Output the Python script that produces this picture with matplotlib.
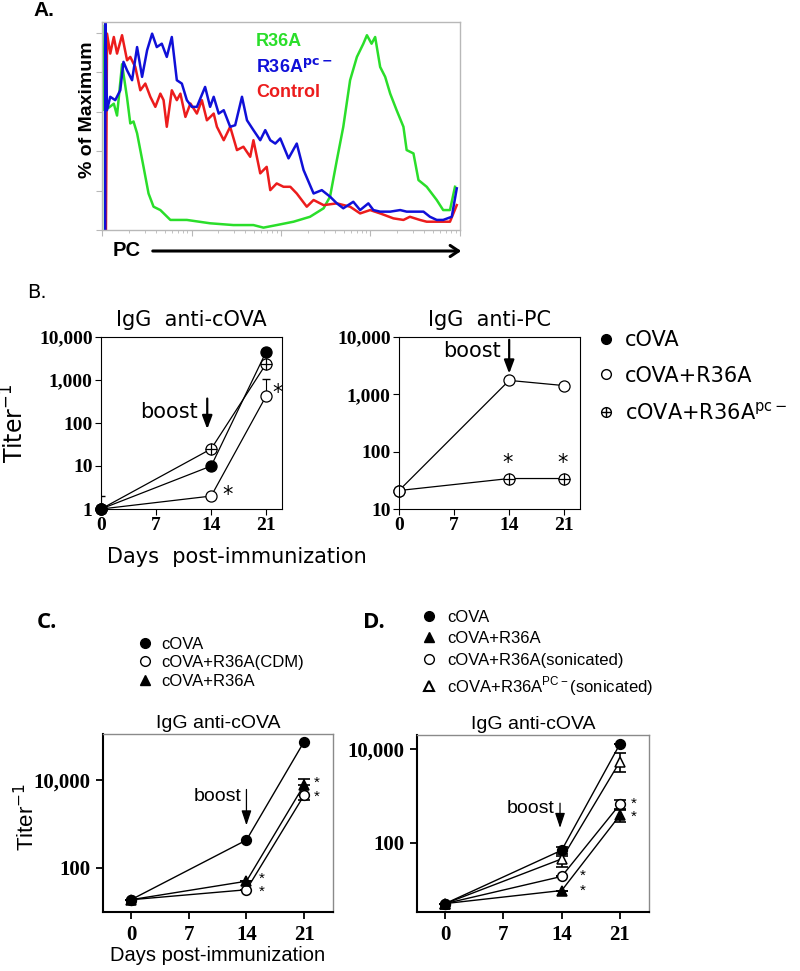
import matplotlib
matplotlib.use("Agg")
import matplotlib.pyplot as plt
import numpy as np
from matplotlib.lines import Line2D

# ---- panel A: flow histogram (channel 0-1000, % of max) ----
green_x = [0, 0, 5, 19, 33, 42, 56, 70, 79, 88, 98, 116, 130, 144, 163, 191, 237, 302, 367, 423,
           451, 488, 535, 581, 619, 637, 656, 674, 693, 712, 730, 740, 753, 763, 777, 791, 805,
           823, 842, 851, 870, 884, 907, 935, 953, 972, 986]
green_y = [0, 104, 61, 62, 64, 58, 84, 67, 54, 55, 49, 32, 18.5, 11.8, 10.1, 5.1, 5.1, 3.4, 2.5, 2.5,
           1.2, 2.5, 4.2, 6.7, 11, 16.9, 35.4, 52.3, 75.9, 87.7, 94.4, 98.7, 94.4, 97.8, 82.6, 77.6,
           69.1, 60.7, 52.3, 40.5, 38.8, 25.3, 21.9, 15.2, 10.1, 10.1, 21.9]
red_x = [11, 14, 23, 33, 42, 56, 70, 79, 93, 107, 121, 135, 149, 163, 172, 181, 195, 209, 219, 233,
         247, 265, 279, 293, 312, 321, 340, 358, 377, 395, 414, 423, 442, 460, 470, 488, 507, 526,
         544, 572, 591, 619, 656, 693, 721, 749, 777, 814, 842, 860, 888, 907, 935, 972, 991]
red_y = [0, 99.5, 89.4, 97.8, 89.4, 98.7, 86, 87.7, 82.6, 70.8, 74.2, 67.5, 62.4, 69.1, 65.8, 52.3,
         70.8, 65.8, 69.1, 57.3, 64.1, 59, 65.8, 55.6, 59, 52.3, 45.5, 52.3, 40.5, 42.2, 37.1, 45.5,
         28.7, 32, 20.2, 23.6, 21.9, 21.9, 18.5, 11.8, 15.2, 12.6, 13.5, 11.8, 8.4, 10.1, 8.4, 5.9,
         5.1, 6.7, 5.1, 4.2, 4.2, 4.2, 12.6]
blue_x = [9, 9, 14, 23, 37, 51, 60, 70, 84, 98, 112, 126, 140, 153, 167, 181, 195, 209, 223, 237,
          251, 265, 288, 302, 312, 326, 340, 358, 372, 391, 405, 423, 442, 456, 470, 484, 498, 521,
          544, 563, 591, 614, 637, 656, 674, 702, 721, 744, 758, 777, 805, 833, 851, 870, 898, 916,
          935, 953, 977, 991]
blue_y = [0, 105, 60.7, 67.5, 65.8, 70.8, 85.2, 80.9, 75.9, 92.7, 77.6, 91.1, 99.5, 92.7, 94.4, 87.7,
          97.8, 75.9, 74.2, 65.8, 62.4, 62.4, 72.5, 62.4, 67.5, 59, 60.7, 52.3, 53.1, 67.5, 55.6,
          50.6, 45.5, 50.6, 45.5, 43.8, 46.4, 36.3, 43.8, 30.4, 18.5, 20.2, 16.9, 13.5, 11, 14.3,
          10.1, 13.5, 10.1, 9.3, 9.3, 10.1, 9.3, 9.3, 9.3, 6.7, 5.1, 5.1, 6.7, 21.1]

# ---- panel B ----
days = [0, 14, 21]
b_cova = [1, 10, 4600]
b_r36a = [1, 2, 430]
b_r36a_hi = [1, 0, 620]
b_pc = [1, 25, 2400]
pc_r36a = [21, 1750, 1420]
pc_pc = [21, 34, 34]

# ---- panel C ----
c_cova = [19, 430, 74000]
c_cdm = [19, 32, 4500]
c_cdm_lo = [0, 0, 1000]
c_r36a = [19, 50, 7700]
c_r36a_hi = [0, 0, 2800]

# ---- panel D ----
d_cova = [5, 69, 12800]
d_cova_err = [[0, 16, 0], [0, 12, 0]]
d_r36a = [5, 9.5, 385]
d_r36a_err = [[0, 0, 108], [0, 0, 108]]
d_son = [5, 19, 660]
d_son_err = [[0, 0, 125], [0, 0, 175]]
d_pcson = [5, 45, 5400]
d_pcson_err = [[0, 15, 2140], [0, 13, 2700]]

W, H = 800, 971
fig = plt.figure(figsize=(8, 9.71), dpi=100)


def rect(l, t, r, b):
    return [l / W, 1 - b / H, (r - l) / W, (b - t) / H]


def ftext(x, y, s, **kw):
    fig.text(x / W, 1 - y / H, s, **kw)


# ================= A =================
axA = fig.add_axes(rect(102, 22, 460, 230))
axA.plot(green_x, green_y, color="#2ade2a", lw=1.8)
axA.plot(red_x, red_y, color="#ec1c1c", lw=1.8)
axA.plot(blue_x, blue_y, color="#1010d8", lw=1.8)
axA.set_xlim(0, 1000)
axA.set_ylim(0, 105.4)
for s in axA.spines.values():
    s.set_color("#b8b8b8")
    s.set_linewidth(1)
axA.set_yticks([0, 20, 40, 60, 80, 100])
axA.set_yticklabels([])
minor = [d * 250 + 250 * np.log10(k) for d in range(4) for k in range(2, 10)]
axA.set_xticks([0, 250, 500, 750, 1000])
axA.set_xticks(minor, minor=True)
axA.set_xticklabels([])
axA.tick_params(colors="#b8b8b8", length=4, width=0.8)
axA.tick_params(which="minor", colors="#b8b8b8", length=2, width=0.6)
ftext(33, 11, "A.", fontsize=15, fontweight="bold", family="Liberation Sans", va="center")
ftext(87, 110, "% of Maximum", fontsize=14, fontweight="bold", family="Liberation Sans",
      rotation=90, ha="center", va="center")
ftext(113, 251, "PC", fontsize=14.5, fontweight="bold", family="Liberation Sans", va="center")
fig.add_artist(matplotlib.patches.FancyArrowPatch((150 / W, 1 - 251 / H), (464 / W, 1 - 251 / H),
               transform=fig.transFigure, arrowstyle="->,head_length=6,head_width=4",
               lw=2.2, color="black", mutation_scale=1))
axA.text(0.43, 0.904, "R36A", transform=axA.transAxes, color="#2ade2a", fontsize=13,
         fontweight="bold", family="Liberation Sans", va="center")
axA.text(0.43, 0.784, r"R36A$^{\mathbf{pc-}}$", transform=axA.transAxes, color="#1010d8",
         fontsize=13, fontweight="bold", family="Liberation Sans", va="center")
axA.text(0.43, 0.659, "Control", transform=axA.transAxes, color="#ec1c1c", fontsize=13,
         fontweight="bold", family="Liberation Sans", va="center")

# ================= B =================
serif_b = dict(family="Liberation Serif", fontweight="bold", fontsize=14)
ftext(27, 292, "B.", fontsize=14, family="DejaVu Sans", va="center")


def style_b(ax):
    ax.set_xlim(0, 23)
    ax.set_xticks([0, 7, 14, 21])
    for s in ax.spines.values():
        s.set_linewidth(0.8)
    ax.tick_params(length=4, width=0.8, pad=2)
    ax.minorticks_off()
    for lab in ax.get_xticklabels() + ax.get_yticklabels():
        lab.set(**serif_b)


mk = dict(ms=8, mec="black", mew=0.9)
axB1 = fig.add_axes(rect(101, 337, 282, 509))
axB1.set_yscale("log")
axB1.errorbar(days[:1], b_r36a[:1], yerr=[[0], [b_r36a_hi[0]]], fmt="none", ecolor="black",
              capsize=3, lw=0.8, zorder=1)
axB1.errorbar(days[2:], b_r36a[2:], yerr=[[0], [b_r36a_hi[2]]], fmt="none", ecolor="black",
              capsize=3, lw=0.8, zorder=1)
axB1.plot(days, b_pc, color="black", lw=0.9, marker="o", mfc="white", clip_on=False, **mk)
axB1.plot(days, b_pc, ls="none", marker="+", color="black", ms=8, mew=0.9, clip_on=False)
axB1.plot(days, b_r36a, color="black", lw=0.9, marker="o", mfc="white", clip_on=False, **mk)
axB1.plot(days, b_cova, color="black", lw=0.9, marker="o", mfc="black", clip_on=False, **mk)
axB1.set_ylim(1, 10000)
axB1.set_yticks([1, 10, 100, 1000, 10000])
axB1.set_yticklabels(["1", "10", "100", "1,000", "10,000"])
style_b(axB1)
axB1.set_title("IgG  anti-cOVA", fontsize=15, family="DejaVu Sans", pad=8)
axB1.text(16.1, 2.15, "*", fontsize=15, ha="center", va="center")
axB1.text(22.4, 500, "*", fontsize=15, ha="center", va="center")
axB1.annotate("", xy=(13.5, 62), xytext=(13.5, 430),
              arrowprops=dict(arrowstyle="-|>,head_length=0.8,head_width=0.3", lw=1.6, color="black"))
axB1.text(12.3, 180, "boost", fontsize=15, family="DejaVu Sans", ha="right", va="center")

axB2 = fig.add_axes(rect(399, 337, 580, 509))
axB2.set_yscale("log")
axB2.plot(days, pc_pc, color="black", lw=0.9, marker="o", mfc="white", clip_on=False, **mk)
axB2.plot(days[1:], pc_pc[1:], ls="none", marker="+", color="black", ms=8, mew=0.9)
axB2.plot(days, pc_r36a, color="black", lw=0.9, marker="o", mfc="white", clip_on=False, **mk)
axB2.set_ylim(10, 10000)
axB2.set_yticks([10, 100, 1000, 10000])
axB2.set_yticklabels(["10", "100", "1,000", "10,000"])
style_b(axB2)
axB2.set_title("IgG  anti-PC", fontsize=15, family="DejaVu Sans", pad=8)
for d, v in zip(days[1:], pc_pc[1:]):
    axB2.text(d - 0.2, v * 1.85, "*", fontsize=15, ha="center", va="center")
axB2.annotate("", xy=(14, 2050), xytext=(14, 10000),
              arrowprops=dict(arrowstyle="-|>,head_length=0.8,head_width=0.3", lw=1.6, color="black"))
axB2.text(12.9, 5800, "boost", fontsize=15, family="DejaVu Sans", ha="right", va="center")

ftext(15, 423, r"Titer$^{-1}$", fontsize=17, family="DejaVu Sans", rotation=90,
      ha="center", va="center")
ftext(237, 557, "Days  post-immunization", fontsize=15, family="DejaVu Sans",
      ha="center", va="center")

hb = [Line2D([], [], ls="none", marker="o", mfc="black", mec="black", ms=7),
      Line2D([], [], ls="none", marker="o", mfc="white", mec="black", ms=7),
      (Line2D([], [], ls="none", marker="o", mfc="white", mec="black", ms=7),
       Line2D([], [], ls="none", marker="+", color="black", ms=7))]
fig.legend(hb, ["cOVA", "cOVA+R36A", r"cOVA+R36A$^{\mathregular{pc-}}$"],
           loc="upper left", bbox_to_anchor=(596 / W, 1 - 330 / H), frameon=False,
           prop=dict(family="DejaVu Sans", size=15), handlelength=1.0, handletextpad=0.4,
           labelspacing=0.75, borderpad=0, borderaxespad=0)


# ================= C & D =================
def style_cd(ax, ylo, yhi):
    ax.set_yscale("log")
    ax.set_ylim(ylo, yhi)
    ax.set_xlim(-3.4, 24.5)
    ax.set_xticks([0, 7, 14, 21])
    ax.set_yticks([100, 10000])
    ax.set_yticklabels(["100", "10,000"])
    ax.minorticks_off()
    ax.spines["left"].set_linewidth(1.5)
    ax.spines["bottom"].set_linewidth(1.5)
    for s in ("top", "right"):
        ax.spines[s].set_color("#8a8a8a")
        ax.spines[s].set_linewidth(1)
    ax.tick_params(length=5, width=1.3, pad=4)
    for lab in ax.get_xticklabels() + ax.get_yticklabels():
        lab.set(family="Liberation Serif", fontweight="bold", fontsize=15)
    ax.set_title("IgG anti-cOVA", fontsize=14, family="Liberation Sans", pad=4)


sans = dict(family="Liberation Sans")
ln = dict(color="black", lw=1.0, ms=7, mec="black", mew=1.1, clip_on=False)
star = dict(fontsize=11, ha="center", va="center", **sans)

axC = fig.add_axes(rect(103, 734, 333, 912))
axC.errorbar(days, c_r36a, yerr=[[0, 0, 0], c_r36a_hi], fmt="none", ecolor="black",
             capsize=4, lw=1.2, capthick=1.2)
axC.errorbar(days, c_cdm, yerr=[c_cdm_lo, [0, 0, 0]], fmt="none", ecolor="black",
             capsize=4, lw=1.2, capthick=1.2)
axC.plot(days, c_cdm, marker="o", mfc="white", **ln)
axC.plot(days, c_r36a, marker="^", mfc="black", **ln)
axC.plot(days, c_cova, marker="o", mfc="black", **ln)
style_cd(axC, 10, 110000)
axC.text(15.9, 57, "*", **star)
axC.text(15.9, 29, "*", **star)
axC.text(22.5, 8700, "*", **star)
axC.text(22.5, 4100, "*", **star)
axC.annotate("", xy=(14, 800), xytext=(14, 7000),
             arrowprops=dict(arrowstyle="-|>,head_length=0.9,head_width=0.3", lw=0.9, color="black"))
axC.text(13.4, 4100, "boost", fontsize=14, ha="right", va="center", **sans)
ftext(37, 622, "C.", fontsize=16, fontweight="bold", family="Open Sans", va="center")
ftext(27, 817, r"Titer$^{-1}$", fontsize=16, rotation=90, ha="center", va="center", **sans)
ftext(218, 955, "Days post-immunization", fontsize=14.5, ha="center", va="center", **sans)

hc = [Line2D([], [], ls="none", marker="o", mfc="black", mec="black", ms=7),
      Line2D([], [], ls="none", marker="o", mfc="white", mec="black", ms=7),
      Line2D([], [], ls="none", marker="^", mfc="black", mec="black", ms=7)]
fig.legend(hc, ["cOVA", "cOVA+R36A(CDM)", "cOVA+R36A"], loc="upper left",
           bbox_to_anchor=(138 / W, 1 - 637 / H), frameon=False,
           prop=dict(family="Liberation Sans", size=12), handlelength=0.8, handletextpad=0.6,
           labelspacing=0.2, borderpad=0, borderaxespad=0)

axD = fig.add_axes(rect(417, 735, 649, 912))
eb = dict(fmt="none", ecolor="black", capsize=4, lw=1.2, capthick=1.2)
axD.errorbar(days, d_cova, yerr=d_cova_err, **eb)
axD.errorbar(days, d_r36a, yerr=d_r36a_err, **eb)
axD.errorbar(days, d_son, yerr=d_son_err, **eb)
axD.errorbar(days, d_pcson, yerr=d_pcson_err, **eb)
axD.plot(days, d_pcson, marker="^", mfc="white", **ln)
axD.plot(days, d_son, marker="o", mfc="white", **ln)
axD.plot(days, d_r36a, marker="^", mfc="black", **ln)
axD.plot(days, d_cova, marker="o", mfc="black", **ln)
style_cd(axD, 3.3, 20000)
axD.text(16.5, 20, "*", **star)
axD.text(16.5, 9.2, "*", **star)
axD.text(22.7, 685, "*", **star)
axD.text(22.7, 355, "*", **star)
axD.annotate("", xy=(13.8, 180), xytext=(13.8, 800),
             arrowprops=dict(arrowstyle="-|>,head_length=0.9,head_width=0.3", lw=0.9, color="black"))
axD.text(13.1, 540, "boost", fontsize=14, ha="right", va="center", **sans)
ftext(363, 622, "D.", fontsize=16, fontweight="bold", family="Open Sans", va="center")

hd = [Line2D([], [], ls="none", marker="o", mfc="black", mec="black", ms=7),
      Line2D([], [], ls="none", marker="^", mfc="black", mec="black", ms=7),
      Line2D([], [], ls="none", marker="o", mfc="white", mec="black", ms=7),
      Line2D([], [], ls="none", marker="^", mfc="white", mec="black", mew=1.5, ms=7)]
fig.legend(hd, ["cOVA", "cOVA+R36A", "cOVA+R36A(sonicated)",
                r"cOVA+R36A$^{\mathregular{PC-}}$(sonicated)"], loc="upper left",
           bbox_to_anchor=(422 / W, 1 - 610 / H), frameon=False,
           prop=dict(family="Liberation Sans", size=12), handlelength=0.8, handletextpad=0.7,
           labelspacing=0.38, borderpad=0, borderaxespad=0)

fig.savefig("out.png", dpi=100)
